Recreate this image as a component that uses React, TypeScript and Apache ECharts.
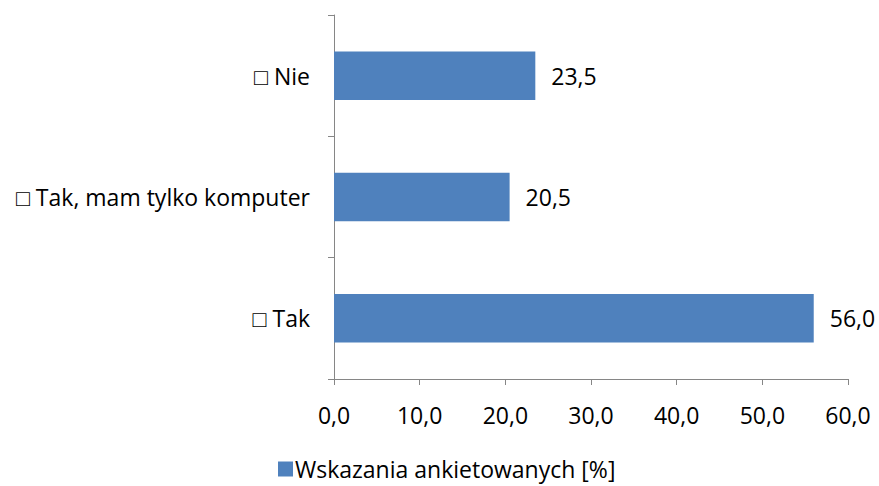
import React, { useEffect, useRef } from "react";
import * as echarts from "echarts";

const categories = ["□ Tak", "□ Tak, mam tylko komputer", "□ Nie"];
const values = [56.0, 20.5, 23.5];
const seriesName = "Wskazania ankietowanych [%]";
const xMin = 0;
const xMax = 60;
const xInterval = 10;

const fmt = (v: number) => v.toFixed(1).replace(".", ",");

export default function App() {
  const ref = useRef<HTMLDivElement>(null);
  useEffect(() => {
    if (!ref.current) return;
    const chart = echarts.init(ref.current, null, { renderer: "svg" });
    const font = "'Open Sans', sans-serif";
    const fs = 23;
    chart.setOption({
      animation: false,
      textStyle: { fontFamily: font },
      grid: { left: 334, right: 31, top: 15, bottom: 107, containLabel: false },
      legend: {
        top: 455,
        left: 278,
        padding: 0,
        itemWidth: 15,
        itemHeight: 15,
        icon: "rect",
        textStyle: { fontSize: fs, lineHeight: 28, color: "#000", fontFamily: font, padding: [0, 0, 0, -3] },
        data: [seriesName],
      },
      xAxis: {
        type: "value",
        min: xMin,
        max: xMax,
        interval: xInterval,
        axisLine: { show: true, lineStyle: { color: "#868686", width: 1 } },
        axisTick: { show: true, length: 6, lineStyle: { color: "#868686" } },
        splitLine: { show: false },
        axisLabel: {
          formatter: (v: number) => fmt(v),
          fontSize: fs,
          color: "#000",
          margin: 24,
          fontFamily: font,
        },
      },
      yAxis: {
        type: "category",
        data: categories,
        axisLine: { show: true, lineStyle: { color: "#868686", width: 1 } },
        axisTick: { show: true, length: 6, lineStyle: { color: "#868686" } },
        axisLabel: { fontSize: fs, color: "#000", margin: 24, fontFamily: font },
      },
      series: [
        {
          name: seriesName,
          type: "bar",
          data: values,
          barWidth: "40%",
          itemStyle: { color: "#4f81bd" },
          label: {
            show: true,
            position: "right",
            distance: 16,
            fontSize: fs,
            color: "#000",
            fontFamily: font,
            formatter: (p: any) => fmt(p.value),
          },
        },
      ],
    });
    return () => chart.dispose();
  }, []);
  return <div ref={ref} style={{ width: 879, height: 486, position: "absolute", left: 0, top: 0 }} />;
}
